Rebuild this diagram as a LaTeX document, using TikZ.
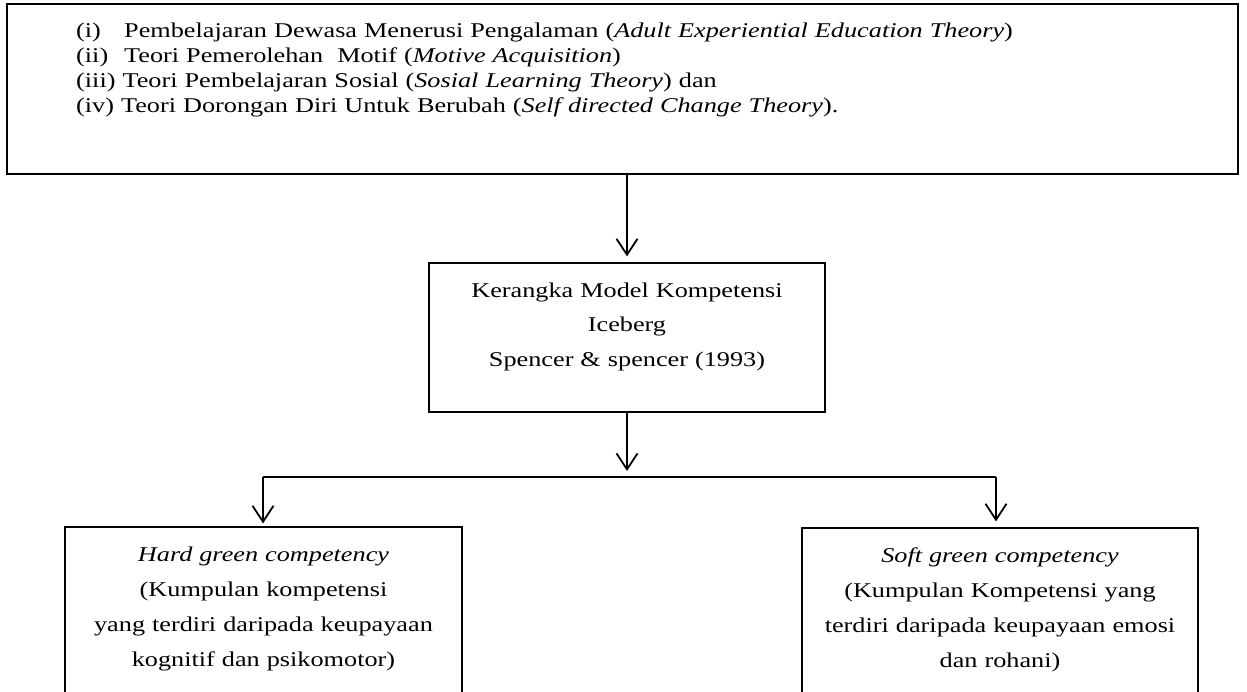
\documentclass[tikz,border=0pt]{standalone}
\usepackage{fontspec}
\setmainfont{Liberation Serif}[FakeStretch=1.25]
\usetikzlibrary{arrows.meta}
\tikzset{
  box/.style={draw=black, line width=1.2pt, rectangle, inner sep=0pt},
  arr/.style={draw=black, line width=1.8pt, -{Straight Barb[length=16pt,width=21pt]}},
  link/.style={draw=black, line width=1.8pt},
  txt/.style={inner sep=0pt, font=\fontsize{21}{25}\selectfont},
  ctxt/.style={inner sep=0pt, align=center, text width=395pt, font=\fontsize{21}{35.3}\selectfont}
}
\begin{document}
\begin{tikzpicture}[x=1pt,y=-1pt]
\useasboundingbox (0,0) rectangle (1247,691);
\clip (0,0) rectangle (1247,691);
% boxes
\node[box, minimum width=1231pt, minimum height=170pt] (top) at (622.5,89) {};
\node[box, minimum width=396pt, minimum height=149pt] (mid) at (627,337.5) {};
\node[box, minimum width=397pt, minimum height=193pt] (left) at (263.5,623.5) {};
\node[box, minimum width=396pt, minimum height=192pt] (right) at (1000,624) {};
% texts
\node[txt, anchor=base west, text width=1100pt, align=left] (toptext) at (76,37)
 {\makebox[48pt][l]{(i)}Pembelajaran Dewasa Menerusi Pengalaman (\textit{Adult Experiential Education Theory})\\
  \makebox[48pt][l]{(ii)}Teori Pemerolehan\ \ Motif (\textit{Motive Acquisition})\\
  (iii) Teori Pembelajaran Sosial (\textit{Sosial Learning Theory}) dan\\
  (iv) Teori Dorongan Diri Untuk Berubah (\textit{Self directed Change Theory}).};
\node[ctxt, anchor=base, font=\fontsize{21}{34.5}\selectfont] (midtext) at (627,297)
 {Kerangka Model Kompetensi\\ Iceberg\\ Spencer \& spencer (1993)};
\node[ctxt, anchor=base] (lefttext) at (263.5,561)
 {\textit{Hard green competency}\\ (Kumpulan kompetensi\\ yang terdiri daripada keupayaan\\ kognitif dan psikomotor)};
\node[ctxt, anchor=base] (righttext) at (1000,562)
 {\textit{Soft green competency}\\ (Kumpulan Kompetensi yang\\ terdiri daripada keupayaan emosi\\ dan rohani)};
% connectors
\coordinate (jl) at (263,477);
\coordinate (jr) at (996,477);
\coordinate (jm) at (627,477);
\draw[arr, shorten >=6pt] (mid.north |- top.south) -- (mid.north);
\draw[arr, shorten >=6pt] (mid.south) -- (jm);
\draw[link] (jl) -- (jr);
\draw[arr, shorten >=3pt] (jl) -- (jl |- left.north);
\draw[arr, shorten >=6pt] (jr) -- (jr |- right.north);
\end{tikzpicture}
\end{document}
